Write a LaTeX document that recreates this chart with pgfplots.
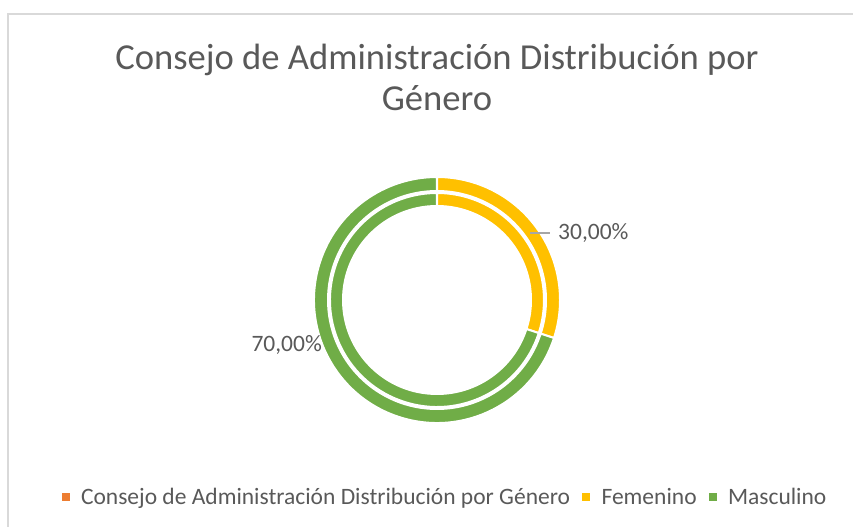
\documentclass[border=0pt]{standalone}
\usepackage{pgfplots}
\pgfplotsset{compat=1.18}
\usepackage{pgfplotstable}
\usetikzlibrary{calc}
\usepackage{fontspec}
\setmainfont{Carlito}
\definecolor{cF}{HTML}{FFC000}
\definecolor{cM}{HTML}{70AD47}
\definecolor{cO}{HTML}{ED7D31}
\definecolor{txt}{HTML}{595959}
\definecolor{brd}{HTML}{D9D9D9}
\definecolor{lead}{HTML}{A6A6A6}

\pgfplotstableread{
Genero Valor
Femenino 30
Masculino 70
}\datatable
\pgfplotstablegetelem{0}{Valor}\of\datatable \edef\vF{\pgfplotsretval}
\pgfplotstablegetelem{1}{Valor}\of\datatable \edef\vM{\pgfplotsretval}
\pgfmathsetmacro\aA{90}
\pgfmathsetmacro\aB{90-360*(\vF/(\vF+\vM))}
\pgfmathsetmacro\aC{\aB-360*(\vM/(\vF+\vM))}

% color, start, end, rin, rout
\newcommand\seg[5]{%
  \filldraw[fill=#1, draw=white, line width=2bp]
    ($(axis cs:437,227)+(#2:#5bp)$) arc[start angle=#2, end angle=#3, radius=#5bp]
    -- ($(axis cs:437,227)+(#3:#4bp)$) arc[start angle=#3, end angle=#2, radius=#4bp]
    -- cycle;}

\begin{document}
\begin{tikzpicture}
\begin{axis}[
  scale only axis, width=853bp, height=527bp,
  xmin=0, xmax=853, ymin=0, ymax=527,
  hide axis, clip=false,
  legend columns=-1,
  legend style={at={(axis cs:444,30)}, anchor=center, draw=none, fill=none,
    font=\fontsize{23.5bp}{28bp}\selectfont, text=txt,
    nodes={inner sep=0pt},
    /tikz/every even column/.append style={column sep=12bp}},
]
\path (axis cs:0,0) rectangle (axis cs:853,527);
\begin{scope}
\clip (axis cs:0,0) rectangle (axis cs:853,527);
\draw[brd, line width=1.5bp] (axis cs:8,-5) -- (axis cs:8,513) -- (axis cs:860,513);
\end{scope}

% outer ring
\seg{cF}{\aA}{\aB}{109}{123}
\seg{cM}{\aB}{\aC}{109}{123}
% inner ring
\seg{cF}{\aA}{\aB}{94}{107}
\seg{cM}{\aB}{\aC}{94}{107}

% data labels
\draw[lead, line width=1.5bp] (axis cs:530,294) -- (axis cs:550,294);
\node[anchor=base west, text=txt, font=\fontsize{23.5bp}{28bp}\selectfont, inner sep=0pt]
  at (axis cs:558,287) {30,00\%};
\node[anchor=base east, text=txt, font=\fontsize{23.5bp}{28bp}\selectfont, inner sep=0pt]
  at (axis cs:322,175) {70,00\%};

% title
\node[anchor=base, text=txt, font=\fontsize{36.6bp}{41bp}\selectfont, inner sep=0pt]
  at (axis cs:437,457) {Consejo de Administración Distribución por};
\node[anchor=base, text=txt, font=\fontsize{36.6bp}{41bp}\selectfont, inner sep=0pt]
  at (axis cs:437,416) {Género};

\addlegendimage{legend image code/.code={\fill[cO] (0bp,-3.5bp) rectangle (7bp,3.5bp); \path (19bp,0bp);}}
\addlegendentry{Consejo de Administración Distribución por Género}
\addlegendimage{legend image code/.code={\fill[cF] (0bp,-3.5bp) rectangle (7bp,3.5bp); \path (19bp,0bp);}}
\addlegendentry{Femenino}
\addlegendimage{legend image code/.code={\fill[cM] (0bp,-3.5bp) rectangle (7bp,3.5bp); \path (19bp,0bp);}}
\addlegendentry{Masculino}
\end{axis}
\end{tikzpicture}
\end{document}
